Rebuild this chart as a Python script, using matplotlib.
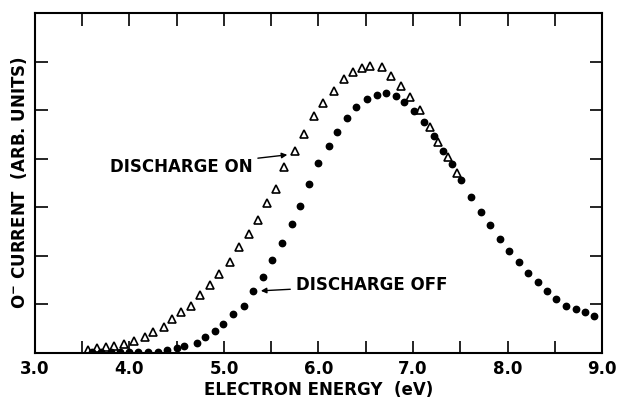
import matplotlib
matplotlib.use("Agg")
import matplotlib.pyplot as plt

# discharge on (open triangles)
energy_on = [3.56, 3.66, 3.75, 3.84, 3.94, 4.05, 4.16, 4.25, 4.36, 4.45,
             4.55, 4.65, 4.75, 4.85, 4.95, 5.06, 5.16, 5.26, 5.36, 5.46,
             5.55, 5.64, 5.75, 5.85, 5.95, 6.05, 6.16, 6.27, 6.36, 6.46,
             6.55, 6.67, 6.77, 6.87, 6.97, 7.07, 7.18, 7.26, 7.37, 7.47]
current_on = [0.06, 0.10, 0.12, 0.14, 0.19, 0.25, 0.33, 0.43, 0.54, 0.70,
              0.84, 0.97, 1.19, 1.40, 1.63, 1.87, 2.18, 2.45, 2.74, 3.09,
              3.38, 3.83, 4.16, 4.51, 4.88, 5.15, 5.39, 5.64, 5.79, 5.87,
              5.91, 5.89, 5.70, 5.50, 5.27, 5.00, 4.65, 4.34, 4.04, 3.71]

# discharge off (filled dots)
energy_off = [3.60, 3.70, 3.80, 3.90, 3.99, 4.09, 4.20, 4.30, 4.40, 4.50,
              4.58, 4.71, 4.80, 4.90, 4.99, 5.10, 5.21, 5.31, 5.41, 5.51,
              5.61, 5.72, 5.80, 5.90, 6.00, 6.11, 6.20, 6.30, 6.40, 6.51,
              6.62, 6.71, 6.82, 6.91, 7.01, 7.12, 7.22, 7.32, 7.41, 7.51,
              7.61, 7.72, 7.81, 7.92, 8.02, 8.12, 8.22, 8.32, 8.42, 8.51,
              8.62, 8.72, 8.82, 8.92]
current_off = [0.02, 0.02, 0.02, 0.02, 0.02, 0.02, 0.02, 0.02, 0.06, 0.10,
               0.14, 0.21, 0.33, 0.45, 0.60, 0.80, 0.97, 1.28, 1.56, 1.91,
               2.26, 2.66, 3.03, 3.48, 3.91, 4.26, 4.55, 4.84, 5.06, 5.23,
               5.31, 5.35, 5.29, 5.17, 4.98, 4.76, 4.47, 4.16, 3.89, 3.56,
               3.21, 2.90, 2.64, 2.35, 2.10, 1.87, 1.65, 1.46, 1.28, 1.11,
               0.97, 0.91, 0.84, 0.76]

xticks = [3.0, 3.5, 4.0, 4.5, 5.0, 5.5, 6.0, 6.5, 7.0, 7.5, 8.0, 8.5, 9.0]
xlabels = ['3.0', '', '4.0', '', '5.0', '', '6.0', '', '7.0', '', '8.0', '', '9.0']
yticks = [1, 2, 3, 4, 5, 6]

plt.rcParams['font.family'] = ['DejaVu Sans']
plt.rcParams['font.weight'] = 'bold'

fig = plt.figure(figsize=(6.17, 4.01), dpi=100)
ax = fig.add_axes([0.0567, 0.1197, 0.919, 0.8479])

ax.plot(energy_on, current_on, linestyle='none', marker='^', markersize=5.5,
        markerfacecolor='white', markeredgecolor='black', markeredgewidth=1.2)
ax.plot(energy_off, current_off, linestyle='none', marker='o', markersize=4.6,
        color='black')

ax.set_xlim(3.0, 9.0)
ax.set_ylim(0, 7)
ax.set_xticks(xticks)
ax.set_xticklabels(xlabels, fontsize=12, fontweight='bold')
ax.set_yticks(yticks)
ax.set_yticklabels([])
ax.tick_params(direction='in', length=9, width=1.2, top=True, right=True, pad=5)
for s in ax.spines.values():
    s.set_linewidth(1.5)

ax.set_xlabel('ELECTRON ENERGY  (eV)', fontsize=12, fontweight='bold', labelpad=2)
ax.set_ylabel(r'$\mathbf{O^{-}}$ CURRENT  (ARB. UNITS)', fontsize=12,
              fontweight='bold', labelpad=-1)

ax.annotate('DISCHARGE ON', xy=(5.67, 4.08), xytext=(5.30, 3.83),
            ha='right', va='center', fontsize=12, fontweight='bold',
            arrowprops=dict(arrowstyle='-|>', color='black', lw=1, mutation_scale=8,
                            shrinkA=2, shrinkB=0))
ax.annotate('DISCHARGE OFF', xy=(5.39, 1.28), xytext=(5.76, 1.40),
            ha='left', va='center', fontsize=12, fontweight='bold',
            arrowprops=dict(arrowstyle='-|>', color='black', lw=1, mutation_scale=8,
                            shrinkA=2, shrinkB=0))

plt.savefig('out.png', dpi=100)
